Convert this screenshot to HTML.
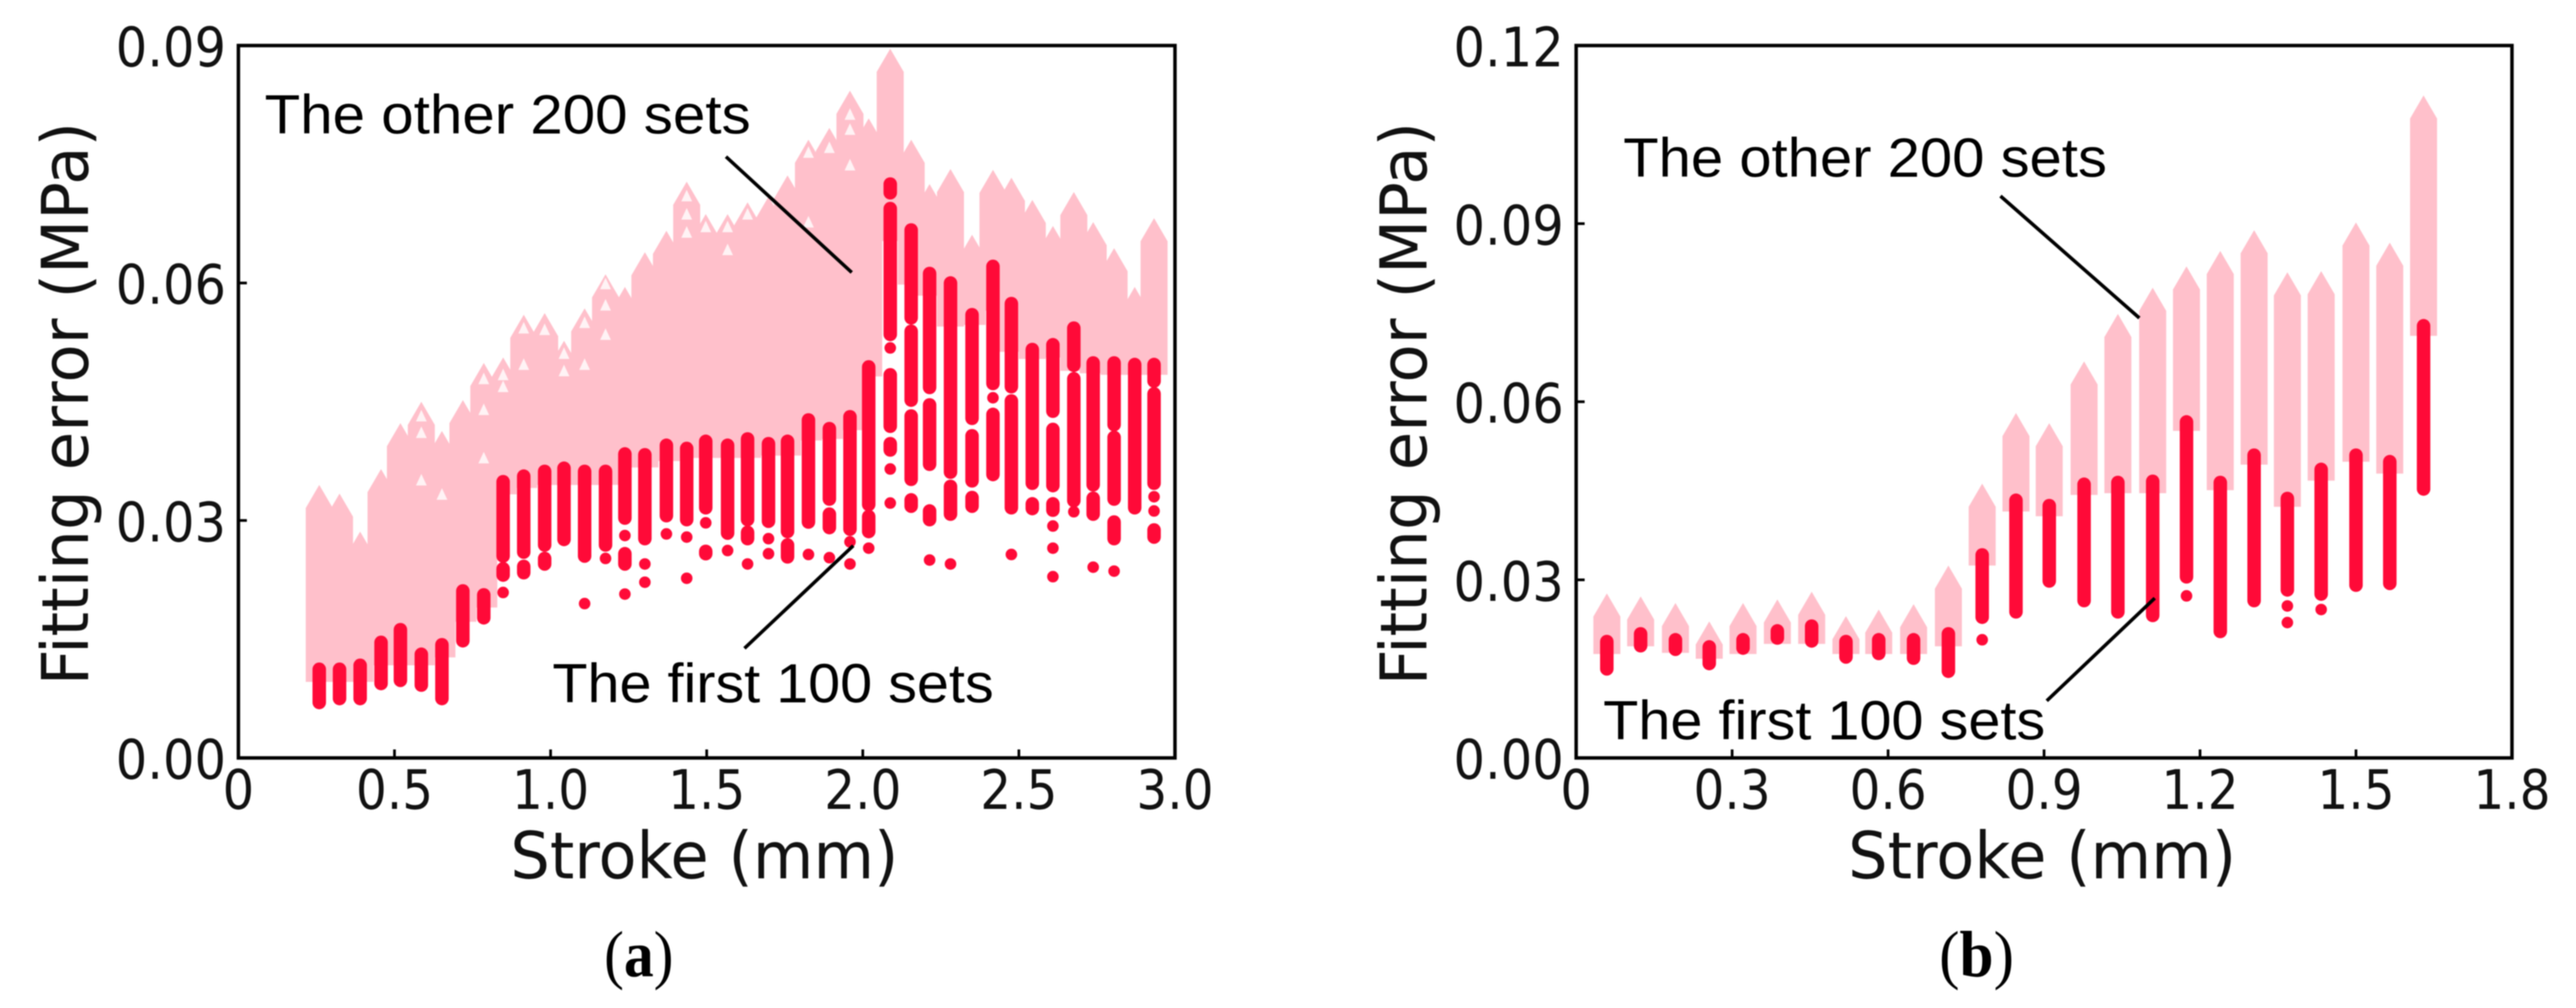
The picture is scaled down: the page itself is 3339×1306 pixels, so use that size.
<!DOCTYPE html>
<html lang="en">
<head>
<meta charset="utf-8">
<title>Fitting error versus stroke</title>
<style>
html,body{margin:0;padding:0;background:#fff;}
#figure{display:block;width:3339px;height:1306px;filter:blur(0.7px);}
.tick{font-family:"DejaVu Sans",sans-serif;font-size:70px;fill:#111;}
.axis-title{font-family:"DejaVu Sans",sans-serif;font-size:84px;fill:#111;}
.note{font-family:"Liberation Sans",sans-serif;font-size:71px;fill:#000;}
.caption{font-family:"Liberation Serif",serif;font-size:85px;fill:#000;}
</style>
</head>
<body>
<svg id="figure" xmlns="http://www.w3.org/2000/svg" width="3339" height="1306" viewBox="0 0 3339 1306">
  <rect x="0" y="0" width="3339" height="1306" fill="#fff"/>
  <g id="panel-a"></g>
  <g id="panel-b"></g>

  <g>
    <text class="note" x="343" y="173" textLength="630" lengthAdjust="spacingAndGlyphs">The other 200 sets</text>
    <text class="note" x="716" y="910" textLength="572" lengthAdjust="spacingAndGlyphs">The first 100 sets</text>
    <line x1="941" y1="203" x2="1104" y2="353" stroke="#000" stroke-width="4.5"/>
    <line x1="965" y1="840" x2="1106" y2="707" stroke="#000" stroke-width="4.5"/>
  </g>
  <g>
    <text class="note" x="2104" y="229" textLength="627" lengthAdjust="spacingAndGlyphs">The other 200 sets</text>
    <text class="note" x="2078" y="958" textLength="573" lengthAdjust="spacingAndGlyphs">The first 100 sets</text>
    <line x1="2593" y1="254" x2="2773" y2="412" stroke="#000" stroke-width="4.5"/>
    <line x1="2653" y1="908" x2="2793" y2="775" stroke="#000" stroke-width="4.5"/>
  </g>

  <text class="axis-title" x="913" y="1138" text-anchor="middle" textLength="503" lengthAdjust="spacingAndGlyphs">Stroke (mm)</text>
  <text class="axis-title" x="2647" y="1138" text-anchor="middle" textLength="503" lengthAdjust="spacingAndGlyphs">Stroke (mm)</text>
  <text class="axis-title" transform="translate(114,523) rotate(-90)" text-anchor="middle" textLength="730" lengthAdjust="spacingAndGlyphs">Fitting error (MPa)</text>
  <text class="axis-title" transform="translate(1849,523) rotate(-90)" text-anchor="middle" textLength="730" lengthAdjust="spacingAndGlyphs">Fitting error (MPa)</text>

  <text class="caption" x="828" y="1265" text-anchor="middle" textLength="90" lengthAdjust="spacingAndGlyphs">(<tspan font-weight="bold">a</tspan>)</text>
  <text class="caption" x="2562" y="1265" text-anchor="middle" textLength="97" lengthAdjust="spacingAndGlyphs">(<tspan font-weight="bold">b</tspan>)</text>
</svg>

<script>
/* ---------- Panel (a) data ---------- */
var xTicksA = [0, 0.5, 1.0, 1.5, 2.0, 2.5, 3.0];
var xTickLabelsA = ["0", "0.5", "1.0", "1.5", "2.0", "2.5", "3.0"];
var yTicksA = [0, 0.03, 0.06, 0.09];
var yTickLabelsA = ["0.00", "0.03", "0.06", "0.09"];

var strokesA = [0.259,0.324,0.390,0.457,0.519,0.586,0.652,0.719,0.786,0.848,0.914,0.981,1.043,1.109,1.176,1.238,1.302,1.371,1.436,1.497,1.567,1.631,1.698,1.759,1.826,1.893,1.959,2.019,2.088,2.155,2.214,2.281,2.350,2.417,2.476,2.543,2.609,2.676,2.738,2.805,2.871,2.933];

var otherPeakA = [.0345,.0334,.0286,.0365,.0423,.0450,.0413,.0452,.0499,.0506,.0560,.0562,.0527,.0568,.0611,.0595,.0639,.0666,.0728,.0687,.0687,.0702,.0709,.0736,.0781,.0796,.0843,.0808,.0896,.0781,.0725,.0744,.0661,.0743,.0733,.0705,.0672,.0715,.0677,.0644,.0595,.0682];

var otherBaseA = [.0096,.0096,.0096,.0117,.0117,.0117,.0127,.0172,.0190,.0333,.0341,.0345,.0345,.0345,.0345,.0367,.0367,.0375,.0379,.0379,.0379,.0379,.0382,.0382,.0401,.0403,.0414,.0482,.0653,.0598,.0584,.0545,.0547,.0565,.0513,.0504,.0506,.0489,.0486,.0484,.0484,.0484];

var hollowStrokeA = [1.176,1.176,1.176,1.109,0.981,0.914,0.848,0.786,0.586,0.586,1.043,1.436,1.436,1.436,1.497,1.567,1.631,1.826,1.959,1.959,1.959,0.786,0.786,1.043,1.109,0.914,0.848,0.652,0.586,1.826,1.567,1.893];
var hollowValueA = [.0599,.0572,.0535,.0550,.0541,.0543,.0484,.0479,.0432,.0411,.0511,.0710,.0687,.0664,.0671,.0671,.0687,.0765,.0813,.0794,.0749,.0379,.0440,.0489,.0497,.0497,.0469,.0333,.0351,.0677,.0642,.0771];

/* each entry: runs of first-100-set points, [upper, lower] or [single] in MPa */
var firstRunsA = [
 [[.0112,.0070]],
 [[.0112,.0075]],
 [[.0117,.0075]],
 [[.0146,.0094]],
 [[.0162,.0098]],
 [[.0131,.0092]],
 [[.0143,.0075]],
 [[.0211,.0148]],
 [[.0206,.0177]],
 [[.0349,.0255],[.0239,.0231],[.0209]],
 [[.0356,.0260],[.0242,.0234]],
 [[.0362,.0269],[.0252,.0245]],
 [[.0366,.0276]],
 [[.0362,.0255],[.0195]],
 [[.0362,.0269],[.0252]],
 [[.0384,.0303],[.0281],[.0258,.0245],[.0207]],
 [[.0383,.0277],[.0245],[.0222]],
 [[.0395,.0306],[.0283]],
 [[.0391,.0301],[.0279],[.0227]],
 [[.0400,.0316],[.0297],[.0261,.0258]],
 [[.0395,.0284],[.0262]],
 [[.0403,.0301],[.0285,.0277],[.0245]],
 [[.0397,.0299],[.0277],[.0258]],
 [[.0400,.0286],[.0269,.0254]],
 [[.0427,.0298],[.0257]],
 [[.0416,.0327],[.0308,.0291],[.0253]],
 [[.0431,.0289],[.0273],[.0245]],
 [[.0494,.0320],[.0305,.0286],[.0265]],
 [[.0725,.0714],[.0694,.0535],[.0518],[.0484,.0419],[.0397,.0389],[.0365],[.0322]],
 [[.0667,.0556],[.0539,.0452],[.0432,.0352],[.0326,.0318]],
 [[.0612,.0468],[.0446,.0371],[.0312,.0301],[.0250]],
 [[.0600,.0361],[.0343,.0308],[.0245]],
 [[.0560,.0429],[.0407,.0350],[.0329,.0318]],
 [[.0621,.0473],[.0455],[.0434,.0358]],
 [[.0574,.0469],[.0451,.0316],[.0257]],
 [[.0516,.0347],[.0321,.0315]],
 [[.0522,.0438],[.0415,.0344],[.0321,.0313],[.0293],[.0265],[.0229]],
 [[.0543,.0496],[.0479,.0325],[.0311]],
 [[.0499,.0345],[.0328,.0308],[.0241]],
 [[.0499,.0421],[.0405,.0327],[.0298,.0277],[.0236]],
 [[.0497,.0316]],
 [[.0497,.0476],[.0460,.0347],[.0330],[.0312],[.0288,.0279]]
];

/* ---------- Panel (b) data ---------- */
var xTicksB = [0, 0.3, 0.6, 0.9, 1.2, 1.5, 1.8];
var xTickLabelsB = ["0", "0.3", "0.6", "0.9", "1.2", "1.5", "1.8"];
var yTicksB = [0, 0.03, 0.06, 0.09, 0.12];
var yTickLabelsB = ["0.00", "0.03", "0.06", "0.09", "0.12"];

var strokesB = [0.059,0.124,0.191,0.256,0.321,0.387,0.453,0.519,0.582,0.649,0.716,0.781,0.846,0.910,0.977,1.042,1.109,1.174,1.239,1.304,1.368,1.433,1.500,1.565,1.630];

var otherPeakB = [.0277,.0272,.0261,.0230,.0261,.0267,.0280,.0239,.0250,.0259,.0324,.0462,.0581,.0564,.0668,.0748,.0792,.0828,.0854,.0889,.0818,.0820,.0902,.0868,.1116];

var otherBaseB = [.0175,.0188,.0177,.0167,.0175,.0192,.0192,.0175,.0175,.0175,.0188,.0324,.0415,.0407,.0443,.0446,.0446,.0551,.0451,.0494,.0423,.0467,.0499,.0479,.0711];

var firstRunsB = [
 [[.0196,.0150]],
 [[.0209,.0189]],
 [[.0199,.0183]],
 [[.0187,.0159]],
 [[.0199,.0185]],
 [[.0214,.0202]],
 [[.0222,.0197]],
 [[.0196,.0170]],
 [[.0199,.0176]],
 [[.0199,.0168]],
 [[.0209,.0146]],
 [[.0342,.0237],[.0199]],
 [[.0434,.0246]],
 [[.0425,.0298]],
 [[.0461,.0265]],
 [[.0464,.0246]],
 [[.0466,.0240]],
 [[.0566,.0305],[.0273]],
 [[.0464,.0213]],
 [[.0510,.0265]],
 [[.0437,.0283],[.0256],[.0228]],
 [[.0486,.0276],[.0250]],
 [[.0510,.0291]],
 [[.0499,.0294]],
 [[.0728,.0453]]
];

/* ---------- Drawing ---------- */
var SVG_NS = "http://www.w3.org/2000/svg";
var PINK = "#ffc0cb";
var RED = "#ff0a38";
var INK = "#000";

function make(tag, attrs, parent) {
  var node = document.createElementNS(SVG_NS, tag);
  for (var key in attrs) { node.setAttribute(key, attrs[key]); }
  parent.appendChild(node);
  return node;
}

function labelWidth(label) {
  if (label.length >= 4) { return 143; }
  if (label.length === 3) { return 100; }
  return 41;
}

function drawPanel(panel) {
  var root = document.getElementById(panel.rootId);
  var sx = function (v) { return panel.left + (v / panel.xMax) * (panel.right - panel.left); };
  var sy = function (v) { return panel.bottom - (v / panel.yMax) * (panel.bottom - panel.top); };
  var halfWidth = 17.5;
  var shoulder = 30;
  var el;

  /* other 200 sets: pink triangle-marker stacks */
  panel.strokes.forEach(function (s, i) {
    var x = sx(s);
    var peak = sy(panel.otherPeak[i]);
    var base = sy(panel.otherBase[i]);
    var pts = [
      [x - halfWidth, base],
      [x - halfWidth, peak + shoulder],
      [x, peak],
      [x + halfWidth, peak + shoulder],
      [x + halfWidth, base]
    ].map(function (p) { return p[0].toFixed(1) + "," + p[1].toFixed(1); }).join(" ");
    el = make("polygon", { points: pts, fill: PINK }, root);
    
    
  });

  /* hollow triangle centres visible at the upper edge */
  (panel.hollowStroke || []).forEach(function (s, i) {
    var x = sx(s);
    var y = sy(panel.hollowValue[i]);
    var pts = (x - 7) + "," + (y + 7) + " " + x + "," + (y - 8) + " " + (x + 7) + "," + (y + 7);
    el = make("polygon", { points: pts, fill: "#fff", "fill-opacity": "0.8" }, root);
    
    
  });

  /* first 100 sets: red point runs */
  panel.strokes.forEach(function (s, i) {
    var x = sx(s);
    panel.firstRuns[i].forEach(function (run) {
      if (run.length === 1) {
        el = make("circle", { cx: x, cy: sy(run[0]), r: 7.5, fill: RED }, root);
        
        
      } else {
        el = make("line", {
          x1: x, x2: x, y1: sy(run[0]), y2: sy(run[1]),
          stroke: RED, "stroke-width": 17.5, "stroke-linecap": "round"
        }, root);
        
        
      }
    });
  });

  /* ticks and labels */
  panel.xTicks.forEach(function (t, i) {
    el = make("line", { x1: sx(t), x2: sx(t), y1: panel.bottom, y2: panel.bottom - 11, stroke: INK, "stroke-width": 3.5 }, root);
    
    
    el = make("text", { x: sx(t), y: panel.bottom + 66, "text-anchor": "middle", "class": "tick", textLength: labelWidth(panel.xLabels[i]), lengthAdjust: "spacingAndGlyphs" }, root);
    el.textContent = panel.xLabels[i];
    
    
  });
  panel.yTicks.forEach(function (t, i) {
    el = make("line", { x1: panel.left, x2: panel.left + 11, y1: sy(t), y2: sy(t), stroke: INK, "stroke-width": 3.5 }, root);
    
    
    el = make("text", { x: panel.left - 16, y: sy(t) + 27, "text-anchor": "end", "class": "tick", textLength: labelWidth(panel.yLabels[i]), lengthAdjust: "spacingAndGlyphs" }, root);
    el.textContent = panel.yLabels[i];
    
    
  });

  /* frame */
  el = make("rect", {
    x: panel.left, y: panel.top,
    width: panel.right - panel.left, height: panel.bottom - panel.top,
    fill: "none", stroke: INK, "stroke-width": 4.5
  }, root);
  
  
}

drawPanel({
  rootId: "panel-a", left: 309, right: 1523, top: 59, bottom: 982, xMax: 3.0, yMax: 0.09,
  strokes: strokesA, otherPeak: otherPeakA, otherBase: otherBaseA, firstRuns: firstRunsA,
  hollowStroke: hollowStrokeA, hollowValue: hollowValueA,
  xTicks: xTicksA, xLabels: xTickLabelsA, yTicks: yTicksA, yLabels: yTickLabelsA
});
drawPanel({
  rootId: "panel-b", left: 2043, right: 3256, top: 59, bottom: 982, xMax: 1.8, yMax: 0.12,
  strokes: strokesB, otherPeak: otherPeakB, otherBase: otherBaseB, firstRuns: firstRunsB,
  xTicks: xTicksB, xLabels: xTickLabelsB, yTicks: yTicksB, yLabels: yTickLabelsB
});
</script>
</body>
</html>
